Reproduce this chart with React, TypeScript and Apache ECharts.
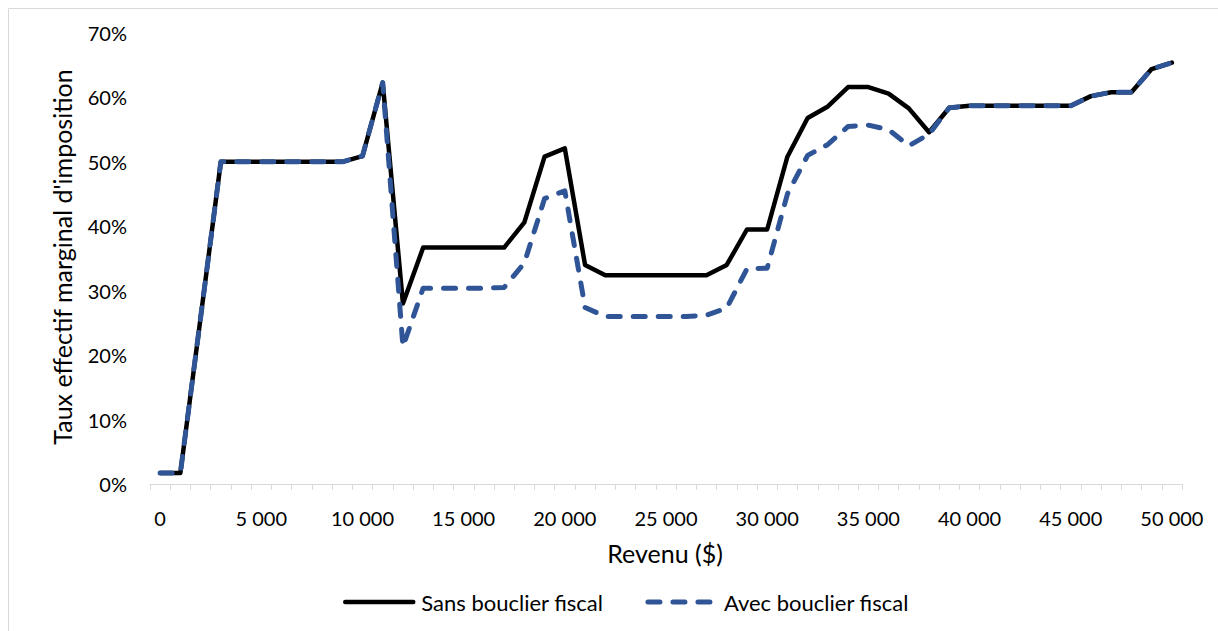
import React, { useEffect, useRef } from "react";
import * as echarts from "echarts";

const revenus: string[] = [];
for (let r = 0; r <= 50000; r += 1000) revenus.push(String(r));

const sansBouclier = [
  1.7, 1.7, 25.8, 50, 50, 50, 50, 50, 50, 50, 50.9, 62.3, 28.0, 36.7, 36.7, 36.7, 36.7, 36.7, 40.6, 50.8,
  52.1, 34.0, 32.4, 32.4, 32.4, 32.4, 32.4, 32.4, 34.0, 39.5, 39.5, 50.8, 56.8, 58.6, 61.6, 61.6, 60.6, 58.3,
  54.6, 58.4, 58.7, 58.7, 58.7, 58.7, 58.7, 58.7, 60.2, 60.8, 60.8, 64.4, 65.4,
];

const avecBouclier = [
  1.7, 1.7, 25.8, 50, 50, 50, 50, 50, 50, 50, 50.9, 62.3, 21.3, 30.4, 30.4, 30.4, 30.4, 30.5, 34.3, 44.3,
  45.5, 27.4, 26.0, 26.0, 26.0, 26.0, 26.0, 26.2, 27.3, 33.4, 33.5, 45.0, 51.0, 52.7, 55.5, 55.7, 55.0, 52.5,
  54.3, 58.4, 58.7, 58.7, 58.7, 58.7, 58.7, 58.7, 60.2, 60.8, 60.8, 64.4, 65.4,
];

const FONT = "Lato";

function fmtThousands(v: string) {
  const n = Number(v);
  if (n === 0) return "0";
  return String(n).replace(/\B(?=(\d{3})+(?!\d))/g, " ");
}

export default function App() {
  const ref = useRef<HTMLDivElement>(null);
  useEffect(() => {
    if (!ref.current) return;
    const chart = echarts.init(ref.current, undefined, { renderer: "svg" });
    chart.setOption({
      animation: false,
      backgroundColor: "#ffffff",
      grid: { left: 150, right: 36, top: 33, bottom: 147, containLabel: false },
      graphic: [
        {
          type: "rect",
          shape: { x: 8.5, y: 8.5, width: 1230, height: 640 },
          style: { fill: "none", stroke: "#d9d9d9", lineWidth: 1 },
          silent: true,
        },
        {
          type: "text",
          x: 62,
          y: 257,
          rotation: Math.PI / 2,
          style: {
            text: "Taux effectif marginal d'imposition",
            fontFamily: FONT,
            fontSize: 25,
            fill: "#000000",
            align: "center",
            verticalAlign: "middle",
          },
        },
        {
          type: "text",
          x: 665,
          y: 553,
          style: {
            text: "Revenu ($)",
            fontFamily: FONT,
            fontSize: 25,
            fill: "#000000",
            align: "center",
            verticalAlign: "middle",
          },
        },
      ],
      legend: {
        top: 591,
        left: 343,
        padding: 0,
        itemWidth: 68,
        itemHeight: 14,
        itemGap: 42,
        textStyle: { fontFamily: FONT, fontSize: 22, color: "#000000", padding: [0, 0, 0, 3] },
        itemStyle: { opacity: 0 },
        lineStyle: { width: "inherit" },
        data: ["Sans bouclier fiscal", "Avec bouclier fiscal"],
      },
      xAxis: {
        type: "category",
        data: revenus,
        boundaryGap: true,
        axisLine: { show: true, lineStyle: { color: "#d9d9d9", width: 1 } },
        axisTick: { show: true, interval: 0, length: 6, lineStyle: { color: "#d9d9d9" } },
        axisLabel: {
          interval: 4,
          margin: 24,
          fontFamily: FONT,
          fontSize: 20,
          color: "#000000",
          formatter: (v: string) => fmtThousands(v),
        },
        splitLine: { show: false },
      },
      yAxis: {
        type: "value",
        min: 0,
        max: 70,
        interval: 10,
        axisLine: { show: false },
        axisTick: { show: false },
        splitLine: { show: false },
        axisLabel: {
          margin: 23,
          fontFamily: FONT,
          fontSize: 20,
          color: "#000000",
          formatter: (v: number) => `${v}%`,
        },
      },
      series: [
        {
          name: "Sans bouclier fiscal",
          type: "line",
          data: sansBouclier,
          symbol: "none",
          lineStyle: { color: "#000000", width: 4.5, cap: "round", join: "round" },
          itemStyle: { color: "#000000" },
          z: 2,
        },
        {
          name: "Avec bouclier fiscal",
          type: "line",
          data: avecBouclier,
          symbol: "none",
          lineStyle: { color: "#2f5597", width: 5, type: [12, 13], cap: "round", join: "round" },
          itemStyle: { color: "#2f5597" },
          z: 3,
        },
      ],
    });
    return () => chart.dispose();
  }, []);
  return (
    <div
      ref={ref}
      style={{ position: "absolute", left: 0, top: 0, width: 1218, height: 631 }}
    />
  );
}
